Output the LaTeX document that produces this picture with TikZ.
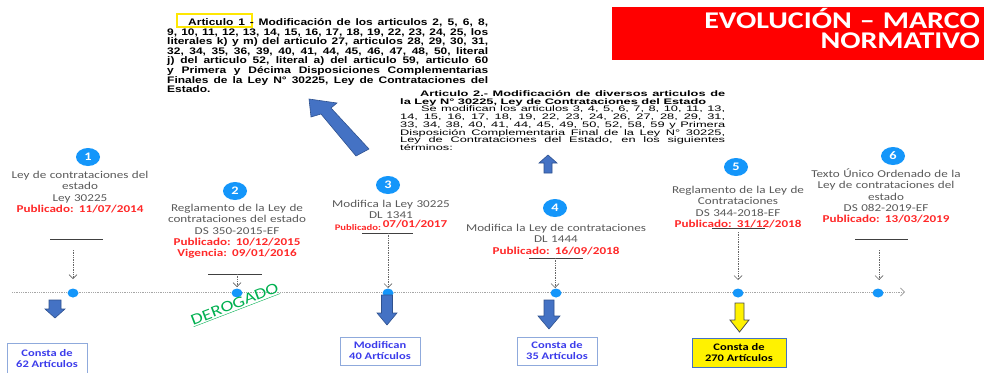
\documentclass[tikz,border=0pt]{standalone}
\usepackage{fontspec}
\setmainfont{Carlito}[FakeStretch=1.25]
\newfontfamily\artA{Liberation Sans}[FakeStretch=1.26]
\newfontfamily\artB{Liberation Sans}[FakeStretch=1.6]
\usetikzlibrary{arrows.meta,shapes.geometric}
\definecolor{gtxt}{RGB}{89,89,89}
\definecolor{rtxt}{RGB}{255,40,40}
\definecolor{dotblue}{RGB}{20,150,250}
\definecolor{arrblue}{RGB}{68,114,196}
\definecolor{arredge}{RGB}{47,82,143}
\definecolor{boxtxt}{RGB}{60,60,235}
\definecolor{boxedge}{RGB}{143,170,220}
\definecolor{dgreen}{RGB}{0,176,80}
\definecolor{titlered}{RGB}{255,0,0}
\newcommand\pub[1]{\textcolor{rtxt}{\bfseries #1}}
\newcommand\blockarrow[7]{\draw[#7] ({#1-#5},#2) -- ({#1+#5},#2) -- ({#1+#5},#3) -- ({#1+#6},#3) -- (#1,#4) -- ({#1-#6},#3) -- ({#1-#5},#3) -- cycle;}
\begin{document}
\begin{tikzpicture}[x=1pt,y=-1pt,
  gblock/.style={text width=180pt, align=center, inner sep=0pt, text=gtxt, font=\fontsize{10.5}{11.3}\selectfont},
  numc/.style={ellipse, fill=dotblue, minimum width=24pt, minimum height=18pt, inner sep=0pt, text=white, font=\bfseries\fontsize{11.5}{11.5}\selectfont},
  tdot/.style={ellipse, fill=dotblue, minimum width=11pt, minimum height=9pt, inner sep=0pt},
  uline/.style={draw=black!75, line width=0.9pt},
  darr/.style={draw=gray!80!black, densely dotted, line width=0.7pt, -{Straight Barb[length=4pt,width=8pt]}},
  tline/.style={draw=gray!70, densely dotted, line width=0.8pt, -{Straight Barb[length=4pt,width=8pt]}},
  barrow/.style={fill=arrblue, draw=arredge, line width=0.6pt},
  yarrow/.style={fill=yellow, draw=black!70, line width=0.8pt},
  artbox/.style={draw=boxedge, line width=1pt, fill=white, minimum width=80pt, minimum height=28pt, align=center, inner sep=0pt, text=boxtxt, font=\bfseries\fontsize{10}{11}\selectfont},
  yellowbox/.style={draw=yellow!90!orange, line width=2pt}
]
\useasboundingbox (0,0) rectangle (987,372);

% title
\fill[titlered] (612,7) rectangle (984,60);
\node[anchor=base east, text width=330pt, align=right, inner sep=0pt, text=white, font=\bfseries\fontsize{24}{20.5}\selectfont] (title) at (980,28) {EVOLUCIÓN – MARCO\\NORMATIVO};

% article 1
\draw[yellowbox] (177,14) rectangle (252,27);
\node[anchor=base west, text width=321pt, align=justify, inner sep=0pt, font=\artA\bfseries\fontsize{9.5}{9.6}\selectfont] (art1) at (167,25.5) {\hspace*{21pt}Articulo 1 - Modificación de los articulos 2, 5, 6, 8,\linebreak 9, 10, 11, 12, 13, 14, 15, 16, 17, 18, 19, 22, 23, 24, 25, los\linebreak literales k) y m) del articulo 27, articulos 28, 29, 30, 31,\linebreak 32, 34, 35, 36, 39, 40, 41, 44, 45, 46, 47, 48, 50, literal\linebreak j) del articulo 52, literal a) del articulo 59, articulo 60\linebreak y Primera y Décima Disposiciones Complementarias\linebreak Finales de la Ley N° 30225, Ley de Contrataciones del\linebreak Estado.};

% article 2
\node[anchor=base west, text width=325pt, align=justify, inner sep=0pt, font=\artB\fontsize{8}{7.7}\selectfont] (art2) at (400,96.5) {{\bfseries\hspace*{20pt}Articulo 2.- Modificación de diversos articulos de\linebreak la Ley N° 30225, Ley de Contrataciones del Estado}\\\hspace*{21pt}Se modifican los articulos 3, 4, 5, 6, 7, 8, 10, 11, 13,\linebreak 14, 15, 16, 17, 18, 19, 22, 23, 24, 26, 27, 28, 29, 31,\linebreak 33, 34, 38, 40, 41, 44, 45, 49, 50, 52, 58, 59 y Primera\linebreak Disposición Complementaria Final de la Ley N° 30225,\linebreak Ley de Contrataciones del Estado, en los siguientes\linebreak términos:};

% big arrows to the articles
\draw[barrow] (309,99) -- (337,103) -- (331,108) -- (369,149) -- (356,156) -- (321,114) -- (311,117) -- cycle;
\blockarrow{548}{173}{163}{155}{4}{9}{barrow}

% timeline
\coordinate (tl0) at (12,292);
\coordinate (tl1) at (905,292);
\draw[tline] (tl0) -- (tl1);
\node[tdot] (d1) at (73,293) {};
\node[tdot] (d2) at (237,293) {};
\node[tdot] (d3) at (388,293) {};
\node[tdot] (d4) at (556,293) {};
\node[tdot] (d5) at (738,293) {};
\node[tdot] (d6) at (878,293) {};

% numbered circles
\node[numc] (n1) at (88,157) {1};
\node[numc] (n2) at (235,191) {2};
\node[numc] (n3) at (388,185) {3};
\node[numc] (n4) at (555,208) {4};
\node[numc] (n5) at (736,167) {5};
\node[numc] (n6) at (893,156) {6};

% text blocks
\node[gblock, anchor=base] (t1) at (80,178.5) {Ley de contrataciones del\\estado\\Ley 30225\\\pub{Publicado: 11/07/2014}};
\node[gblock, anchor=base] (t2) at (237,211.5) {Reglamento de la Ley de\\contrataciones del estado\\DS 350-2015-EF\\\pub{Publicado: 10/12/2015}\\\pub{Vigencia: 09/01/2016}};
\node[gblock, anchor=base] (t3) at (391,207.5) {Modifica la Ley 30225\\DL 1341\\{\fontsize{8.5}{8.5}\selectfont\pub{Publicado:}}\,\raisebox{3pt}{\pub{07/01/2017}}};
\node[gblock, anchor=base] (t4) at (556,231.5) {Modifica la Ley de contrataciones\\DL 1444\\\pub{Publicado: 16/09/2018}};
\node[gblock, anchor=base] (t5) at (738,193.5) {Reglamento de la Ley de\\Contrataciones\\DS 344-2018-EF\\\pub{Publicado: 31/12/2018}};
\node[gblock, anchor=base] (t6) at (886,177.5) {Texto Único Ordenado de la\\Ley de contrataciones del\\estado\\DS 082-2019-EF\\\pub{Publicado: 13/03/2019}};

% short lines
\draw[uline] (50,239) -- (103,239);
\draw[uline] (208,274) -- (262,274);
\draw[uline] (362,233) -- (413,233);
\draw[uline] (529,258) -- (583,258);
\draw[uline] (712,228) -- (765,228);
\draw[uline] (855,239) -- (908,239);

% dotted arrows
\coordinate (a1) at (73,250);  \coordinate (b1) at (73,279);
\coordinate (a2) at (237,274); \coordinate (b2) at (237,287);
\coordinate (a3) at (388,233); \coordinate (b3) at (388,288);
\coordinate (a4) at (555,258); \coordinate (b4) at (555,288);
\coordinate (a5) at (738,232); \coordinate (b5) at (738,280);
\coordinate (a6) at (879,250); \coordinate (b6) at (879,280);
\draw[darr] (a1) -- (b1);
\draw[darr] (a2) -- (b2);
\draw[darr] (a3) -- (b3);
\draw[darr] (a4) -- (b4);
\draw[darr] (a5) -- (b5);
\draw[darr] (a6) -- (b6);

% derogado
\node[rotate=21, inner sep=0pt, text=dgreen, font=\fontsize{15.5}{15.5}\selectfont] (derog) at (235,305) {\underline{DEROGADO}};

% down arrows
\blockarrow{55}{300}{309}{318}{6}{10}{barrow}
\blockarrow{387}{295}{313}{325}{5.5}{10}{barrow}
\blockarrow{549}{300}{316}{329}{5}{11}{barrow}
\blockarrow{739.5}{303}{320}{332}{4.5}{9.5}{yarrow}

% boxes
\node[artbox, minimum height=31pt] (b62) at (47,358.5) {Consta de\\62 Artículos};
\node[artbox] (b40) at (380,351) {Modifican\\40 Artículos};
\node[artbox] (b35) at (557,351) {Consta de\\35 Artículos};
\node[artbox, fill=yellow, text=black, draw=arrblue, minimum width=94pt, minimum height=29pt] (b270) at (739,352.5) {Consta de\\270 Artículos};
\end{tikzpicture}
\end{document}
